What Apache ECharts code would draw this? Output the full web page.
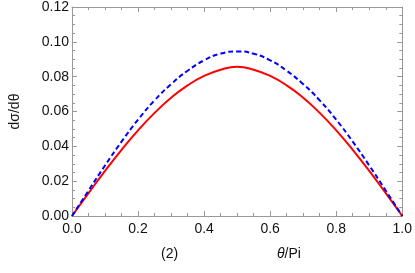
<!DOCTYPE html>
<html>
<head>
<meta charset="utf-8">
<script src="https://cdn.jsdelivr.net/npm/echarts@6/dist/echarts.min.js"></script>
<style>html,body{margin:0;padding:0;background:#fff}#c{width:415px;height:273px}</style>
</head>
<body>
<div id="c"></div>
<script>
// x positions (theta/Pi)
var xValues = [0, 0.05, 0.1, 0.15, 0.2, 0.25, 0.3, 0.35, 0.4, 0.45, 0.5, 0.55, 0.6, 0.65, 0.7, 0.75, 0.8, 0.85, 0.9, 0.95, 1.0];
// red solid curve
var redValues = [0, 0.0131, 0.0259, 0.0380, 0.0492, 0.0592, 0.0679, 0.0750, 0.0804, 0.0840, 0.0857, 0.0840, 0.0804, 0.0750, 0.0679, 0.0592, 0.0492, 0.0380, 0.0259, 0.0131, 0];
// blue dashed curve
var blueValues = [0, 0.0146, 0.0290, 0.0427, 0.0553, 0.0664, 0.0757, 0.0834, 0.0894, 0.0932, 0.0945, 0.0932, 0.0894, 0.0834, 0.0757, 0.0664, 0.0553, 0.0427, 0.0290, 0.0146, 0];
var xTicks = [0, 0.2, 0.4, 0.6, 0.8, 1.0];
var yTicks = [0, 0.02, 0.04, 0.06, 0.08, 0.10, 0.12];

function pairs(xs, ys){ return xs.map(function(x,i){ return [x, ys[i]]; }); }

var FONT = 'Liberation Sans, Arial, sans-serif';
var GRAY = '#999999';
var TXT = '#111';
var chart = echarts.init(document.getElementById('c'), null, {renderer:'canvas'});

function axisCommon(show){
  return {
    axisLine:{show:true, onZero:false, lineStyle:{color:GRAY, width:1}},
    axisTick:{show:true, inside:true, length:5, lineStyle:{color:GRAY}},
    minorTick:{show:true, splitNumber:4, length:3, lineStyle:{color:GRAY}},
    splitLine:{show:false},
    axisLabel:{show:show, color:TXT, fontFamily:FONT, fontSize:14}
  };
}

var xb = Object.assign({type:'value', position:'bottom', min:xTicks[0], max:xTicks[xTicks.length-1], interval:0.2}, axisCommon(true));
xb.axisLabel.formatter = function(v){ return v.toFixed(1); };
xb.axisLabel.margin = 6;
var xt = Object.assign({type:'value', position:'top', min:0, max:1, interval:0.2}, axisCommon(false));
var yl = Object.assign({type:'value', position:'left', min:yTicks[0], max:yTicks[yTicks.length-1], interval:0.02,
  name:'dσ/dθ', nameLocation:'middle', nameGap:50, nameRotate:90,
  nameTextStyle:{color:TXT, fontFamily:FONT, fontSize:14}}, axisCommon(true));
yl.axisLabel.formatter = function(v){ return v.toFixed(2); };
yl.axisLabel.margin = 3;
var yr = Object.assign({type:'value', position:'right', min:0, max:0.12, interval:0.02}, axisCommon(false));

chart.setOption({
  animation:false,
  grid:{left:63, right:12, top:6, bottom:57},
  xAxis:[xb, xt],
  yAxis:[yl, yr],
  series:[
    {type:'line', xAxisIndex:0, yAxisIndex:0, data:pairs(xValues, redValues), smooth:true, showSymbol:false,
     lineStyle:{color:'#ff0000', width:2}},
    {type:'line', xAxisIndex:0, yAxisIndex:0, data:pairs(xValues, blueValues), smooth:true, showSymbol:false,
     lineStyle:{color:'#0000ff', width:2, type:[5,3]}}
  ],
  graphic:[
    {type:'text', left:161, top:247, style:{text:'(2)', fill:TXT, font:'14px '+FONT}},
    {type:'text', left:277, top:247, style:{text:'{i|θ}/Pi', rich:{i:{fontStyle:'italic', fontFamily:FONT, fontSize:14, fill:TXT}}, fill:TXT, font:'14px '+FONT}}
  ]
});
</script>
</body>
</html>
